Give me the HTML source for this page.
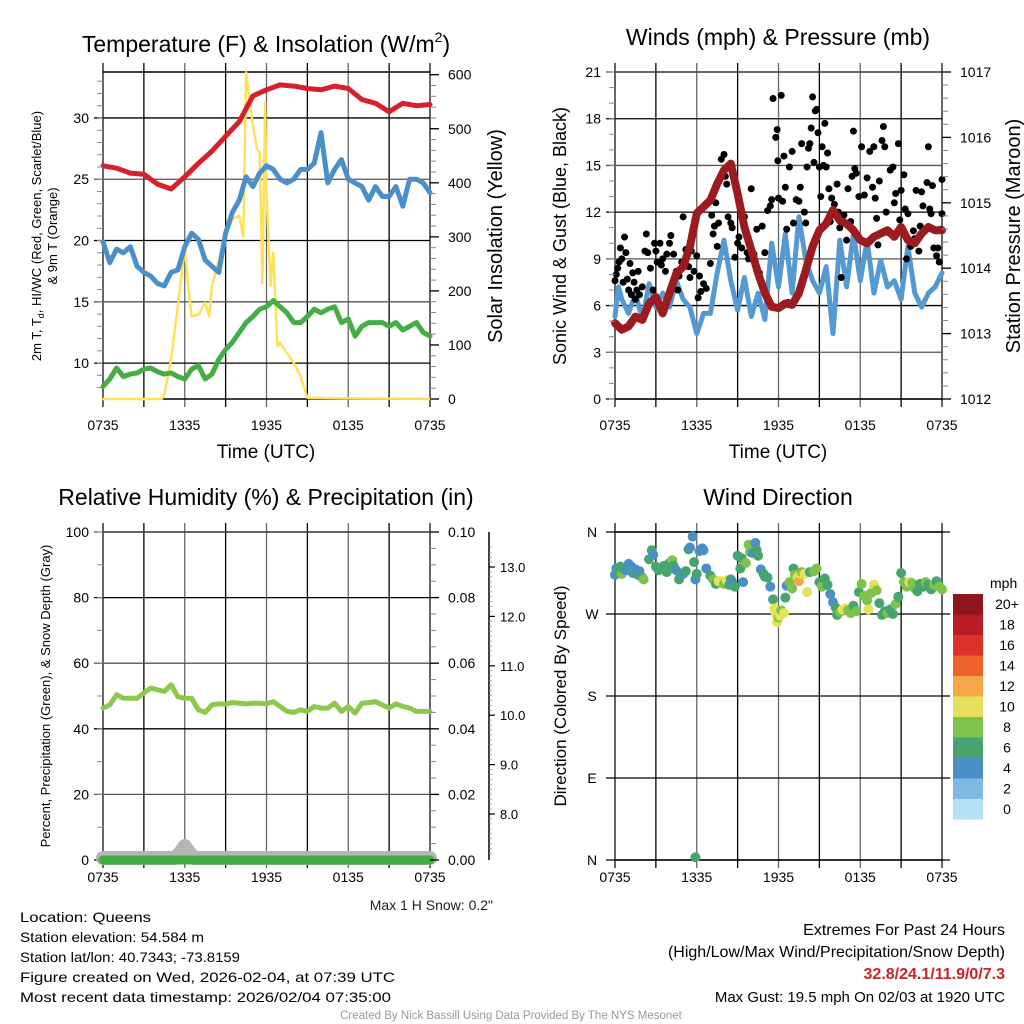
<!DOCTYPE html>
<html><head><meta charset="utf-8"><style>
html,body{margin:0;padding:0;background:#fff;}
svg{display:block;font-family:"Liberation Sans",sans-serif;}
</style></head><body>
<svg id="fig" width="1024" height="1024" viewBox="0 0 1024 1024" xmlns="http://www.w3.org/2000/svg">
<rect width="1024" height="1024" fill="#fff"/>
<g id="grids"></g>
<g id="marks"></g>
<g id="axes"></g>
<g id="texts">
<text x="266" y="52" font-size="23" text-anchor="middle">Temperature (F) &amp; Insolation (W/m<tspan font-size="14" dy="-10">2</tspan><tspan dy="10">)</tspan></text>
<text x="778" y="45" font-size="23" text-anchor="middle">Winds (mph) &amp; Pressure (mb)</text>
<text x="266" y="505" font-size="23" text-anchor="middle">Relative Humidity (%) &amp; Precipitation (in)</text>
<text x="778" y="505" font-size="23" text-anchor="middle">Wind Direction</text>
<text x="266" y="458" font-size="19" text-anchor="middle">Time (UTC)</text>
<text x="778" y="458" font-size="19" text-anchor="middle">Time (UTC)</text>
<text transform="translate(41,236) rotate(-90)" font-size="13" text-anchor="middle">2m T, T<tspan font-size="9" dy="3">d</tspan><tspan dy="-3">, HI/WC (Red, Green, Scarlet/Blue)</tspan></text>
<text transform="translate(57,236) rotate(-90)" font-size="13" text-anchor="middle">&amp; 9m T (Orange)</text>
<text transform="translate(502,236) rotate(-90)" font-size="20" text-anchor="middle">Solar Insolation (Yellow)</text>
<text transform="translate(566,236) rotate(-90)" font-size="18" text-anchor="middle">Sonic Wind &amp; Gust (Blue, Black)</text>
<text transform="translate(1020,236) rotate(-90)" font-size="20" text-anchor="middle">Station Pressure (Maroon)</text>
<text transform="translate(50,696) rotate(-90)" font-size="13" text-anchor="middle">Percent, Precipitation (Green), &amp; Snow Depth (Gray)</text>
<text transform="translate(566,696) rotate(-90)" font-size="17" text-anchor="middle">Direction (Colored By Speed)</text>
<text x="493" y="910" font-size="14" text-anchor="end" fill="#222">Max 1 H Snow: 0.2"</text>
<text x="20" y="922" font-size="14" textLength="131" lengthAdjust="spacingAndGlyphs">Location: Queens</text>
<text x="20" y="942" font-size="14" textLength="184" lengthAdjust="spacingAndGlyphs">Station elevation: 54.584 m</text>
<text x="20" y="962" font-size="14" textLength="220" lengthAdjust="spacingAndGlyphs">Station lat/lon: 40.7343; -73.8159</text>
<text x="20" y="982" font-size="14" textLength="375" lengthAdjust="spacingAndGlyphs">Figure created on Wed, 2026-02-04, at 07:39 UTC</text>
<text x="20" y="1002" font-size="14" textLength="371" lengthAdjust="spacingAndGlyphs">Most recent data timestamp: 2026/02/04 07:35:00</text>
<text x="1005" y="935" font-size="16" text-anchor="end">Extremes For Past 24 Hours</text>
<text x="1005" y="957" font-size="16" text-anchor="end">(High/Low/Max Wind/Precipitation/Snow Depth)</text>
<text x="1005" y="979" font-size="16" font-weight="bold" fill="#cc2229" text-anchor="end">32.8/24.1/11.9/0/7.3</text>
<text x="1005" y="1002" font-size="15" text-anchor="end">Max Gust: 19.5 mph On 02/03 at 1920 UTC</text>
<text x="511" y="1019" font-size="11.5" fill="#999" text-anchor="middle">Created By Nick Bassill Using Data Provided By The NYS Mesonet</text>
</g>
</svg>
<script>
// ---------- data ----------
const tempT = [0,1,2,3,4,5,6,7,8,9,10,11,12,13,14,15,16,17,18,19,20,21,22,23,24];
const tempRed = [26.1,25.9,25.5,25.4,24.6,24.2,25.2,26.3,27.3,28.5,29.7,31.8,32.3,32.7,32.6,32.4,32.3,32.6,32.4,31.5,31.2,30.5,31.2,31.0,31.1];
const halfT = [0,0.5,1,1.5,2,2.5,3,3.5,4,4.5,5,5.5,6,6.5,7,7.5,8,8.5,9,9.5,10,10.5,11,11.5,12,12.5,13,13.5,14,14.5,15,15.5,16,16.5,17,17.5,18,18.5,19,19.5,20,20.5,21,21.5,22,22.5,23,23.5,24];
const tempBlue = [19.9,18.2,19.3,19.0,19.5,17.9,17.4,17.1,16.5,16.3,17.4,17.6,19.5,20.6,20.1,18.4,17.9,17.4,20.6,22.3,23.3,25.2,24.4,25.5,26.1,25.8,25.0,24.7,25.0,25.8,25.8,26.3,28.8,24.7,25.8,26.6,25.0,24.7,24.4,23.3,24.4,23.6,23.6,24.4,22.8,25.0,25.0,24.7,23.9];
const tempGreen = [8.1,8.7,9.6,8.9,9.1,9.2,9.5,9.6,9.3,9.1,9.2,8.9,8.7,9.5,9.8,8.7,9.1,10.3,11.1,11.7,12.5,13.3,13.8,14.4,14.6,15.1,14.6,14.1,13.3,13.3,13.8,14.4,14.1,14.4,14.6,13.3,13.6,12.2,13.0,13.3,13.3,13.3,13.0,13.3,12.7,13.0,13.3,12.5,12.2];
const solarT = [0,4.3,4.5,5,5.5,6,6.3,6.5,7,7.5,7.8,8,8.5,9,9.5,10,10.3,10.5,11,11.3,11.5,11.7,11.9,12,12.3,12.5,12.8,13,13.5,14,14.5,15,24];
const solarW = [0,0,8,73,172,283,197,153,156,178,153,209,258,302,333,339,300,604,506,462,456,215,549,382,209,271,98,104,85,67,42,2,0];
const presT = halfT;
const pressure = [1013.16,1013.06,1013.11,1013.26,1013.21,1013.46,1013.56,1013.31,1013.62,1013.92,1014.02,1014.33,1014.84,1014.94,1015.04,1015.29,1015.50,1015.60,1015.14,1014.63,1014.28,1013.92,1013.62,1013.41,1013.39,1013.46,1013.44,1013.62,1013.97,1014.33,1014.58,1014.68,1014.89,1014.73,1014.68,1014.58,1014.43,1014.38,1014.48,1014.53,1014.58,1014.48,1014.63,1014.43,1014.38,1014.53,1014.63,1014.58,1014.58];
const windT = [0,0.25,0.5,1,1.5,2,2.5,3,3.5,4,4.5,5,5.5,6,6.5,7,7.5,8,8.5,9,9.5,10,10.5,11,11.5,12,12.5,13,13.5,14,14.5,15,15.5,16,16.5,17,17.5,18,18.5,19,19.5,20,20.5,21,21.5,22,22.5,23,23.5,24];
const windSpd = [5.3,7.2,6.4,5.5,6.8,5.1,7.4,5.9,6.8,5.9,7.6,6.4,5.9,4.2,5.5,5.5,8.1,10.2,7.6,5.7,7.8,5.3,6.8,5.1,10.0,7.2,10.6,6.8,11.7,8.9,7.6,6.8,8.5,4.2,10.2,7.2,10.6,7.6,10.2,6.8,8.9,7.2,7.6,6.4,9.8,6.8,5.9,6.8,7.2,8.1];
const gustT = [0,0.1,0.2,0.3,0.4,0.5,0.6,0.7,0.8,0.9,1,1.1,1.2,1.3,1.4,1.5,1.6,1.7,1.8,2,2.2,2.3,2.4,2.6,2.8,2.9,3,3.1,3.3,3.4,3.5,3.7,3.8,4,4.1,4.3,4.5,4.6,4.7,4.9,5,5.2,5.4,5.5,5.6,5.8,6,6.1,6.2,6.3,6.5,6.7,7,7.1,7.2,7.3,7.4,7.5,7.6,7.8,8,8.1,8.2,8.3,8.5,8.6,8.8,9,9.1,9.3,9.5,9.7,9.8,10,10.2,10.4,10.6,10.8,11,11.2,11.4,11.5,11.6,11.8,11.9,11.95,12,12.2,12.3,12.4,12.5,12.6,12.7,12.8,13,13.1,13.3,13.5,13.6,13.7,13.9,14,14.1,14.2,14.3,14.4,14.5,14.6,14.7,14.8,14.9,15,15.1,15.2,15.3,15.4,15.5,15.6,15.7,15.8,15.9,16,16.1,16.3,16.4,16.5,16.6,16.8,17,17.1,17.3,17.4,17.5,17.6,17.7,17.9,18.1,18.3,18.5,18.7,18.9,19,19.1,19.2,19.3,19.4,19.6,19.7,19.8,19.9,20,20.2,20.4,20.5,20.6,20.8,20.9,21,21.2,21.3,21.4,21.5,21.7,21.9,22,22.1,22.3,22.4,22.5,22.6,22.8,22.9,23,23.1,23.2,23.3,23.4,23.6,23.7,23.8,23.9,24,24];
const gustV = [7.6,8.0,8.4,8.8,9.7,9.0,7.5,10.4,9.4,7.7,7.0,8.7,6.7,8.1,7.5,6.4,7.0,8.2,6.7,7.2,9.5,10.6,9.4,8.4,7.0,10.0,9.5,8.8,10.0,8.6,9.0,8.2,9.3,10.0,10.5,9.3,8.2,7.0,7.9,8.8,11.7,9.6,8.5,7.8,9.5,8.2,9.2,6.5,7.9,6.9,7.4,7.1,8.7,11.8,10.6,11.1,12.6,9.8,11.3,15.4,15.7,14.3,13.8,11.7,11.3,11.0,9.1,10.0,10.4,9.7,11.7,9.4,9.0,13.5,9.3,10.9,8.1,11.1,9.4,12.1,12.4,12.8,19.3,16.8,17.3,15.3,12.9,19.5,12.7,15.6,13.6,10.9,6.2,14.9,15.9,11.3,12.8,12.7,13.6,16.4,12.0,11.3,14.9,16.1,16.4,17.4,19.4,15.2,18.5,18.6,17.1,14.9,13.0,16.2,15.0,17.7,14.9,15.8,13.5,11.4,12.9,12.1,12.5,13.8,12.0,11.0,7.8,11.8,10.2,13.5,11.4,14.3,17.2,14.8,14.5,13.0,16.2,13.1,14.2,15.9,13.6,16.2,12.9,11.6,9.9,14.0,16.6,17.5,16.2,12.0,10.7,14.7,14.9,12.6,13.2,16.4,11.5,13.4,14.4,12.2,9.0,11.9,9.8,10.8,10.3,13.4,9.5,11.1,13.3,12.4,10.9,13.9,16.2,12.2,11.9,13.7,9.7,9.2,9.7,8.8,10.9,11.9,14.1];
const rhT = halfT;
const rh = [46.3,47.3,50.4,49.3,49.3,49.3,50.9,52.4,51.9,51.4,53.4,49.8,49.3,49.3,45.8,45.0,47.3,47.6,47.5,48.0,47.8,47.6,47.8,47.8,47.6,48.3,46.8,45.3,45.0,45.8,45.3,46.8,46.3,46.3,47.8,45.3,46.8,44.8,47.8,48.0,48.3,47.3,46.3,47.6,46.8,46.3,45.3,45.3,45.3];
const snowT = [0,5.3,5.7,6.0,6.3,6.7,24];
const snowRel = [0,0,0.1,0.2,0.1,0,0];
const dirT = [0,0.1,0.2,0.4,0.5,0.6,0.8,1,1.1,1.2,1.3,1.4,1.5,1.7,1.8,2,2.1,2.5,2.7,2.8,3,3.2,3.5,3.6,3.8,4,4.2,4.3,4.5,4.7,4.8,5,5.2,5.4,5.5,5.7,5.8,5.9,6,6.2,6.4,6.5,6.7,7,7.2,7.4,7.6,7.8,8,8.2,8.4,8.5,8.6,8.8,9,9.2,9.3,9.4,9.6,9.8,9.9,10.1,10.3,10.4,10.5,10.7,10.9,11,11.2,11.4,11.6,11.7,11.8,11.9,12,12.1,12.2,12.4,12.5,12.6,12.8,13,13.1,13.2,13.4,13.5,13.6,13.7,13.9,14.1,14.3,14.6,14.8,15,15.2,15.4,15.6,15.8,16,16.2,16.3,16.5,16.7,16.9,17.1,17.3,17.5,17.7,17.9,18.1,18.3,18.5,18.6,18.8,19,19.2,19.4,19.6,19.8,20,20.2,20.4,20.6,20.8,21,21.2,21.4,21.6,21.8,22,22.2,22.4,22.6,22.8,23,23.2,23.4,23.6,23.8,24,5.9];
const dirDeg = [313,320,316,322,314,320,318,325,320,322,315,318,319,313,317,310,308,330,340,335,322,318,320,323,316,326,329,323,318,308,313,314,317,341,343,355,327,308,314,339,342,340,320,312,308,303,306,306,303,307,302,308,305,300,334,320,331,305,326,346,338,337,348,340,334,319,314,311,310,300,286,276,270,261,266,268,274,271,288,301,305,298,320,313,310,306,314,316,314,294,316,317,320,305,300,309,302,292,283,277,269,272,275,276,274,271,279,273,294,303,290,285,275,293,302,296,282,269,273,271,275,270,281,289,315,305,300,305,304,298,295,303,300,305,302,297,302,306,300,297,3];
const dirSpd = [4,4,6,6,8,6,4,4,6,4,4,6,4,6,4,6,8,6,6,4,6,6,6,6,6,6,8,6,4,6,6,4,6,6,4,4,6,4,6,4,4,4,4,6,8,6,10,10,8,10,6,6,4,6,6,6,6,4,8,8,8,4,4,6,6,4,6,6,6,4,6,10,10,10,8,10,8,10,6,4,8,8,6,8,10,12,10,8,10,10,6,8,8,6,8,6,6,4,4,6,6,8,10,10,8,8,6,8,6,8,8,8,10,8,10,8,6,6,6,8,6,6,8,6,6,8,8,10,8,8,6,6,6,8,6,6,8,6,8,8,6];
const cbLabels = ["20+","18","16","14","12","10","8","6","4","2","0"];
const cbColors = ["#8e171b","#b81c24","#dc3229","#ee612c","#f6a646","#e6e05a","#7cc24b","#48a46e","#4a8fc6","#80bae2","#b4e1f6"];

// ---------- helpers ----------
const NS = "http://www.w3.org/2000/svg";
const G = document.getElementById("grids"), M = document.getElementById("marks"), A = document.getElementById("axes");
function el(tag, attrs, parent){const e=document.createElementNS(NS,tag);for(const k in attrs)e.setAttribute(k,attrs[k]);parent.appendChild(e);return e;}
function lin(d0,d1,r0,r1){return v=>r0+(v-d0)*(r1-r0)/(d1-d0);}
const xL = lin(0,24,103,430), xR = lin(0,24,615,942);
const timeLabels = ["0735","1335","1935","0135","0735"];

function frame(x0,x1,y0,y1,name,labY){
  for(let i=0;i<=8;i++){
    const x=x0+(x1-x0)*i/8;
    const ln=el("line",{x1:x,x2:x,y1:y0-9,y2:y1+8,stroke:(i%2? "#000":"#666"),"stroke-width":(i===0||i===8)?2:1.3},G);
    
    
  }
  for(let i=0;i<5;i++){
    const t=el("text",{x:x0+(x1-x0)*i/4,y:labY,"font-size":14,"text-anchor":"middle"},A);
    t.textContent=timeLabels[i];
    
    
  }
  el("line",{x1:x0,x2:x1,y1:y0,y2:y0,stroke:"#000","stroke-width":1.5},G);
  el("line",{x1:x0,x2:x1,y1:y1,y2:y1,stroke:"#000","stroke-width":1.5},G);
}
function leftAxis(x,y,vals,labels,minorStep,lo,hi,name,gridX1){
  for(let v=lo;v<=hi+1e-9;v+=minorStep){el("line",{x1:x-6,x2:x,y1:y(v),y2:y(v),stroke:"#888","stroke-width":1},A);}
  vals.forEach((v,i)=>{
    el("line",{x1:x-9,x2:gridX1,y1:y(v),y2:y(v),stroke:(i%2?"#555":"#000"),"stroke-width":1.3},G);
    const t=el("text",{x:x-14,y:y(v)+5,"font-size":14,"text-anchor":"end"},A);
    t.textContent=labels[i];
    
    
  });
}
function rightAxis(x,y,vals,labels,minorStep,lo,hi,name,lx){
  for(let v=lo;v<=hi+1e-9;v+=minorStep){el("line",{x1:x,x2:x+6,y1:y(v),y2:y(v),stroke:"#888","stroke-width":1},A);}
  vals.forEach((v,i)=>{
    el("line",{x1:x,x2:x+9,y1:y(v),y2:y(v),stroke:"#000","stroke-width":1.3},A);
    const t=el("text",{x:lx,y:y(v)+5,"font-size":14,"text-anchor":"start"},A);
    t.textContent=labels[i];
    
    
  });
}
function path(xs,ys,xf,yf,attrs,name){
  const d=xs.map((t,i)=>(i?"L":"M")+xf(t).toFixed(1)+","+yf(ys[i]).toFixed(1)).join("");
  const p=el("path",Object.assign({d:d,fill:"none","stroke-linejoin":"round","stroke-linecap":"round"},attrs),M);
  
  
  return p;
}

// ---------- panel 1: temperature ----------
const yT = lin(7.07,33.75,399,72), yS = lin(0,605,399,72);
frame(103,430,72,399,"temp",430);
leftAxis(103,yT,[10,15,20,25,30],["10","15","20","25","30"],1,8,33,"temp-y",430);
rightAxis(430,yS,[0,100,200,300,400,500,600],["0","100","200","300","400","500","600"],20,0,600,"insolation-y",448);
path(solarT,solarW,xL,yS,{stroke:"#fde15a","stroke-width":2.5},"solar-line");
path(tempT,tempRed,xL,yT,{stroke:"#d7202a","stroke-width":5},"temperature-line");
path(halfT,tempBlue,xL,yT,{stroke:"#4a8fc9","stroke-width":5},"windchill-line");
path(halfT,tempGreen,xL,yT,{stroke:"#44ae44","stroke-width":5},"dewpoint-line");

// ---------- panel 2: winds ----------
const yW = lin(0,21,399,72), yP = lin(1012,1017,399,72);
frame(615,942,72,399,"wind",430);
leftAxis(615,yW,[0,3,6,9,12,15,18,21],["0","3","6","9","12","15","18","21"],1,0,21,"wind-y",942);
rightAxis(942,yP,[1012,1013,1014,1015,1016,1017],["1012","1013","1014","1015","1016","1017"],0.2,1012,1017,"pressure-y",960);
path(windT,windSpd,xR,yW,{stroke:"#5599d2","stroke-width":5},"wind-speed-line");
gustT.forEach((t,i)=>{
  const c=el("circle",{cx:xR(t),cy:yW(gustV[i]),r:3.5,fill:"#000"},M);
  
  
});
path(presT,pressure,xR,yP,{stroke:"#9b1b1e","stroke-width":8},"pressure-line");

// ---------- panel 3: RH ----------
const yH = lin(0,100,860,532), yPr = lin(0,0.1,860,532), ySn = lin(8,13,814,567);
frame(103,430,532,860,"rh",882);
leftAxis(103,yH,[0,20,40,60,80,100],["0","20","40","60","80","100"],10,0,100,"rh-y",430);
rightAxis(430,yPr,[0,0.02,0.04,0.06,0.08,0.1],["0.00","0.02","0.04","0.06","0.08","0.10"],0.005,0,0.1,"precip-y",448);
el("line",{x1:489,x2:489,y1:532,y2:860,stroke:"#000","stroke-width":1.5},A);
for(let v=7.2;v<=13.4+1e-9;v+=0.1){const yy=ySn(v);if(yy>=532&&yy<=860)el("line",{x1:489,x2:492,y1:yy,y2:yy,stroke:"#999","stroke-width":0.8},A);}
[8,9,10,11,12,13].forEach(v=>{
  el("line",{x1:489,x2:495,y1:ySn(v),y2:ySn(v),stroke:"#000","stroke-width":1.2},A);
  const t=el("text",{x:500,y:ySn(v)+5,"font-size":13},A);
  t.textContent=v.toFixed(1);
  
  
});
path(snowT,snowRel,xL,v=>858-v*60,{stroke:"#b5b5b5","stroke-width":14},"snow-depth-line");
path([0,24],[0,0],xL,yPr,{stroke:"#3fae3f","stroke-width":9,"stroke-linecap":"round"},"precip-line");
path(rhT,rh,xL,yH,{stroke:"#8bc94d","stroke-width":5},"rh-line");

// ---------- panel 4: direction ----------
const yD = lin(0,360,860,532);
frame(615,942,532,860,"dir",882);
const dirVals=[0,90,180,270,360], dirLabs=["N","E","S","W","N"];
dirVals.forEach((v,i)=>{
  el("line",{x1:606,x2:950,y1:yD(v),y2:yD(v),stroke:"#000","stroke-width":1.3},G);
  const t=el("text",{x:592,y:yD(v)+5,"font-size":14,"text-anchor":"middle"},A);
  t.textContent=dirLabs[i];
  
  
});
dirT.forEach((t,i)=>{
  const idx=Math.max(0,Math.min(10,10-Math.floor(dirSpd[i]/2)));
  const c=el("circle",{cx:xR(t),cy:yD(dirDeg[i]),r:5,fill:cbColors[idx]},M);
  
  
});
const mt=el("text",{x:990,y:588,"font-size":14},A);
mt.textContent="mph";


cbLabels.forEach((lab,i)=>{
  const y0=594+i*20.5;
  const r=el("rect",{x:953,y:y0,width:30,height:20.6,fill:cbColors[i]},A);
  
  
  const t=el("text",{x:1007,y:y0+15,"font-size":14,"text-anchor":"middle"},A);
  t.textContent=lab;
  
  
});
</script>
</body></html>
